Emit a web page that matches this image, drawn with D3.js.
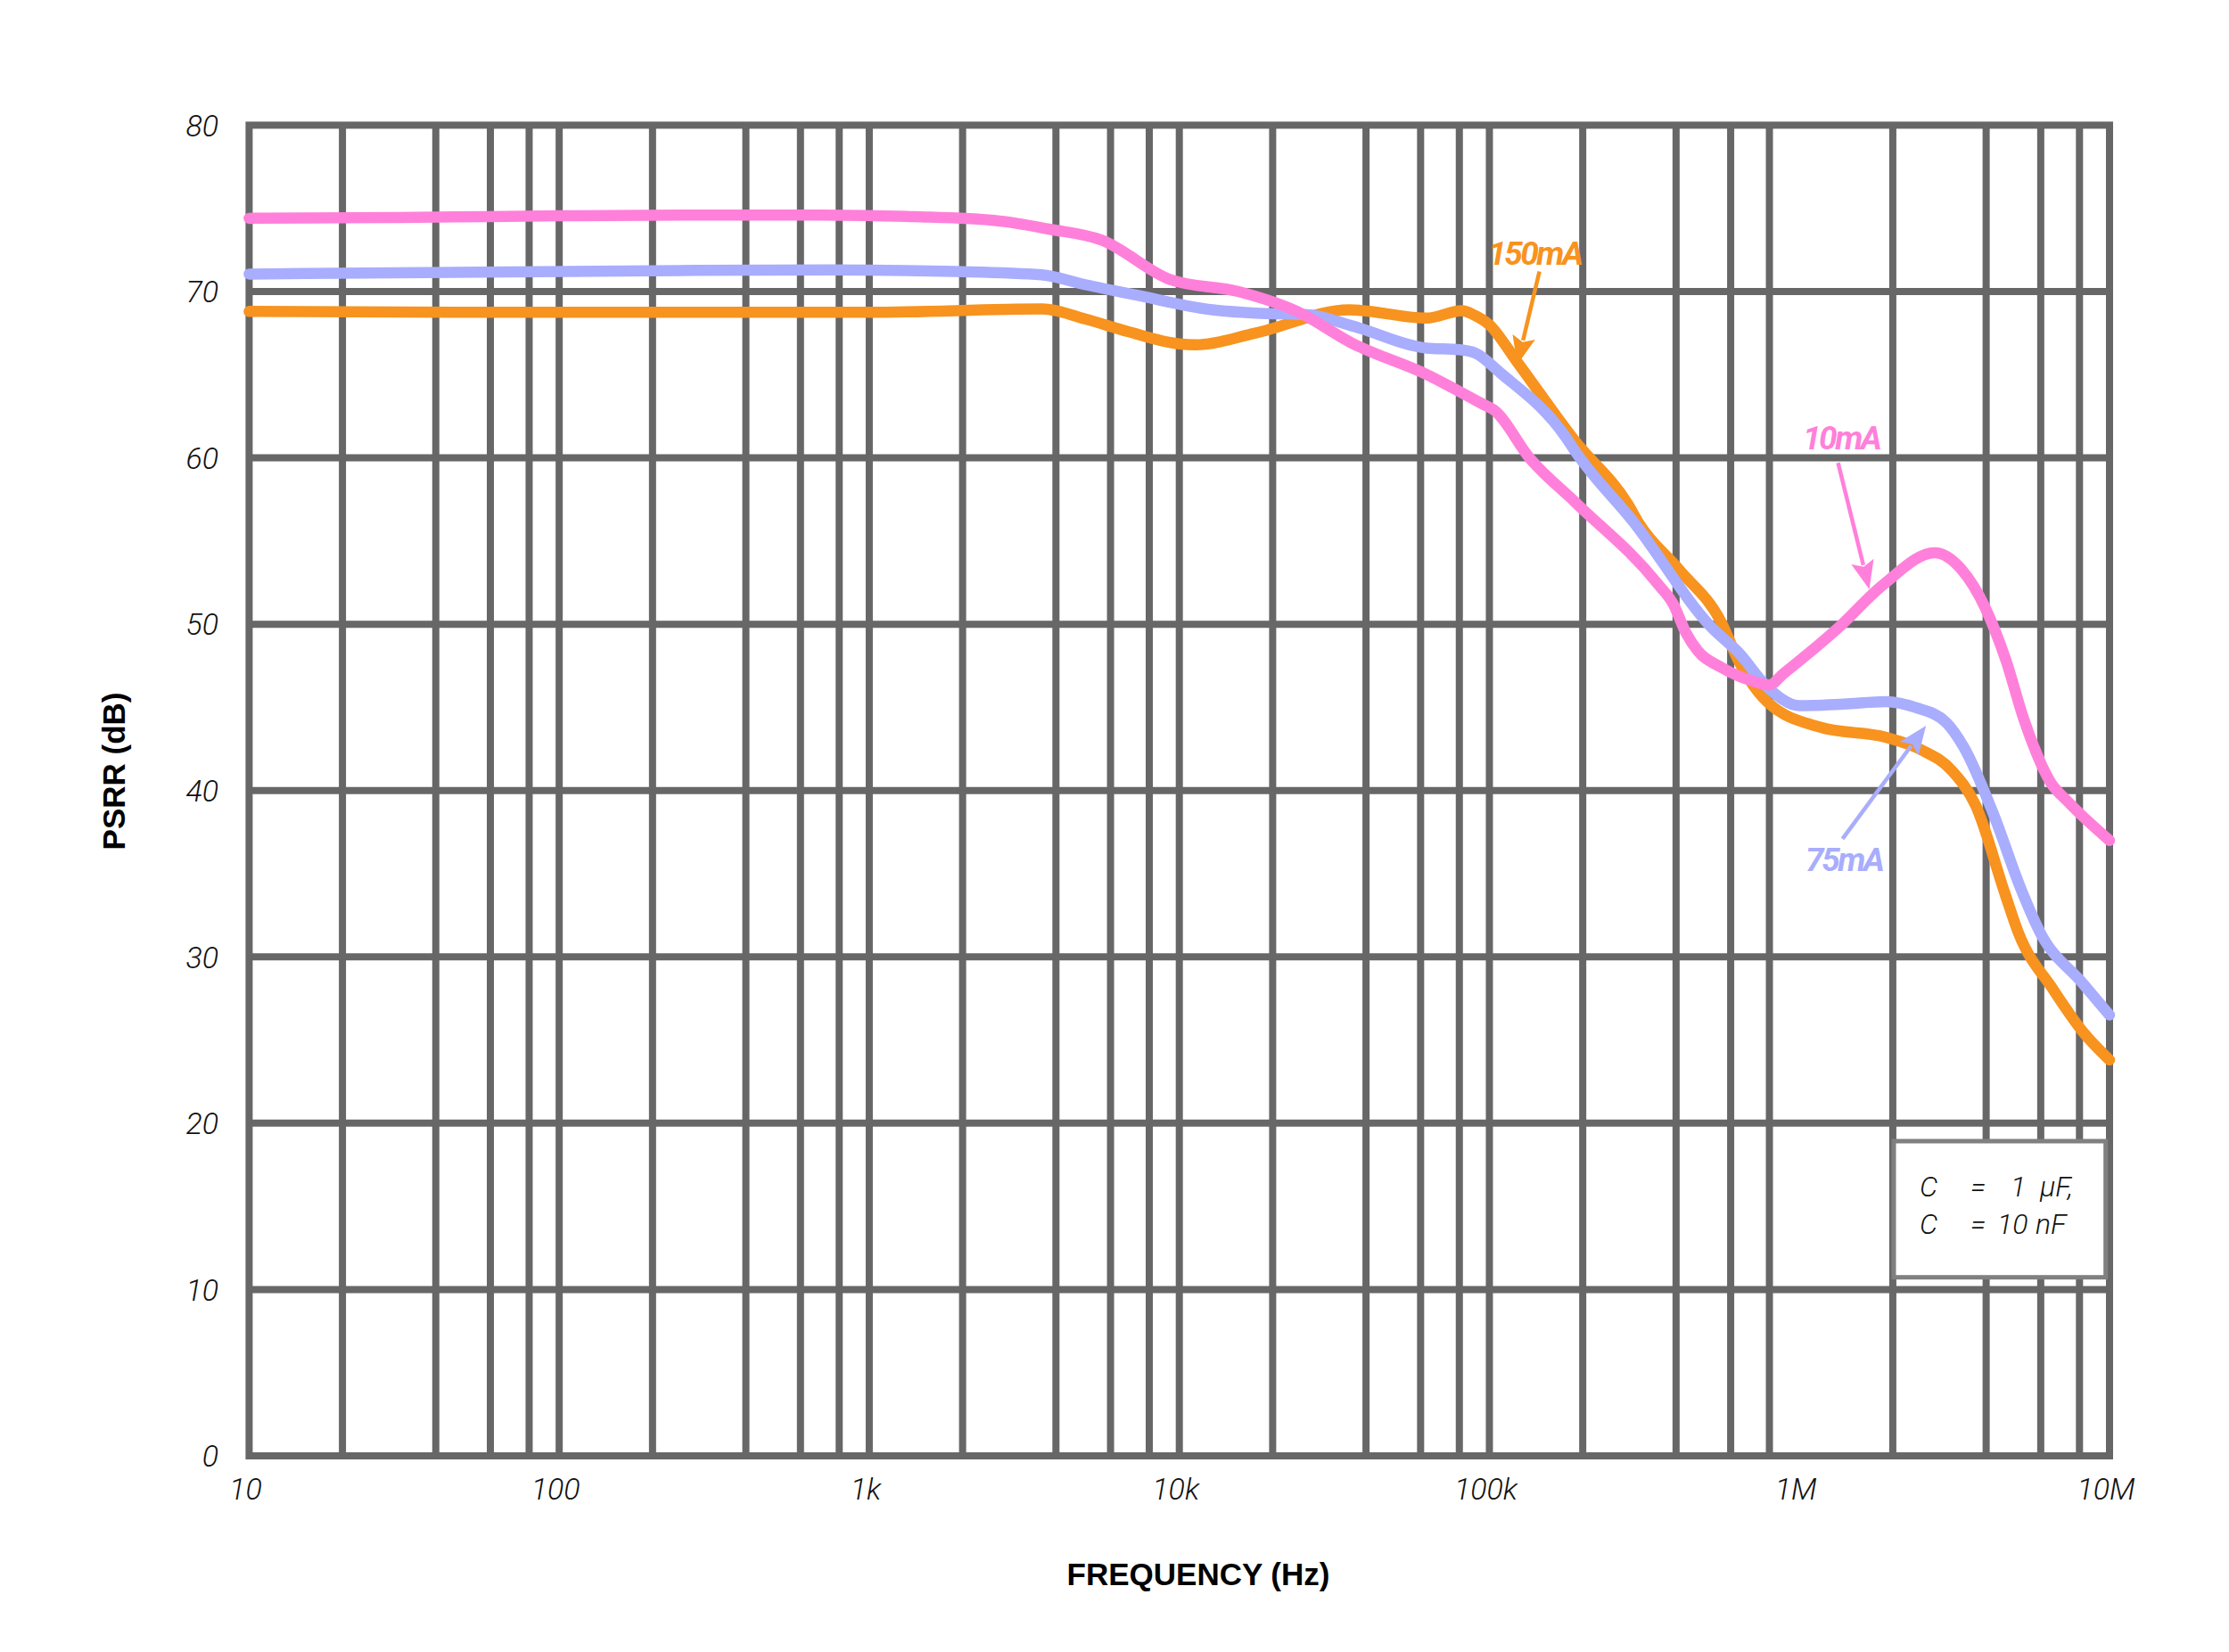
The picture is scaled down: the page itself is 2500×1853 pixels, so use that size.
<!DOCTYPE html>
<html><head><meta charset="utf-8">
<script src="https://cdn.jsdelivr.net/npm/d3@7"></script>
<style>body{margin:0;background:#fff}svg{display:block}</style>
</head><body>
<svg id="chart" width="2500" height="1853"></svg>
<script>
// ---- data ----
const yTicks = [0, 10, 20, 30, 40, 50, 60, 70, 80];
const xTickValues = [10, 100, 1e3, 1e4, 1e5, 1e6, 1e7];
const xTickLabels = ["10", "100", "1k", "10k", "100k", "1M", "10M"];
const gridDecades = [10, 100, 1e3, 1e4, 1e5, 1e6];
const gridMantissas = [2, 4, 6, 8, 10];
const missingGrid = [1e6];

const freq10mA = [10, 30, 100, 300, 700, 1400, 2600, 3800, 5600, 9400, 15500, 24000, 36000, 63000, 96000, 103000, 136000, 190000, 350000, 392000, 430000, 470000, 560000, 700000, 800000, 885000, 1320000, 1870000, 2730000, 3330000, 3970000, 4630000, 5290000, 6450000, 7370000, 10000000];
const psrr10mA = [74.4, 74.45, 74.55, 74.6, 74.6, 74.5, 74.25, 73.75, 73.1, 70.7, 70.0, 68.8, 66.9, 65.0, 63.2, 62.9, 59.9, 57.3, 52.4, 51.2, 49.5, 48.4, 47.4, 46.6, 46.35, 47.0, 49.7, 52.4, 54.3, 53.3, 51.0, 47.85, 44.3, 40.5, 39.3, 37.0];

const freq75mA = [10, 200, 740, 1900, 3600, 5000, 7200, 12800, 17600, 26000, 36600, 62700, 80000, 90000, 108600, 177000, 189000, 293000, 521000, 636000, 790000, 1000000, 1390000, 1900000, 2360000, 2970000, 3390000, 4200000, 5200000, 5960000, 8200000, 10000000];
const psrr75mA = [71.05, 71.25, 71.3, 71.2, 71.0, 70.4, 69.8, 68.9, 68.7, 68.6, 67.9, 66.6, 66.5, 66.3, 65.1, 61.2, 60.4, 56.1, 49.8, 48.3, 46.2, 45.1, 45.2, 45.35, 45.0, 44.1, 42.6, 38.7, 34.0, 31.5, 28.4, 26.5];

const freq150mA = [10, 100, 1000, 3620, 4970, 6800, 10000, 11300, 17600, 35400, 62700, 81700, 89000, 100000, 122000, 189000, 280000, 305000, 408000, 560000, 636000, 790000, 1170000, 1900000, 2470000, 3100000, 3700000, 4600000, 5070000, 6600000, 8200000, 10000000];
const psrr150mA = [68.8, 68.75, 68.75, 68.95, 68.35, 67.6, 66.85, 66.8, 67.5, 68.9, 68.4, 68.85, 68.6, 68.0, 65.85, 61.0, 57.2, 56.0, 53.3, 50.1, 47.8, 45.3, 43.8, 43.2, 42.45, 41.2, 39.1, 33.8, 31.5, 28.0, 25.5, 23.8];

const seriesNames = ["10mA", "75mA", "150mA"];
const seriesColors = ["#FF80DA", "#A8ADFD", "#F7931E"];
// annotation: [label, labelFreq, labelDb, arrowStartFreq, arrowStartDb, tipFreq, tipDb]
const annotations = [
  ["150mA", 140000, 72.3, 145000, 71.2, 123000, 65.6],
  ["10mA", 1365000, 61.2, 1332000, 59.7, 1680000, 52.1],
  ["75mA", 1393000, 35.9, 1377000, 37.1, 2560000, 43.9]
];
const noteLines = [["C", "=", "1", "\u03BCF,"], ["C", "=", "10", "nF"]];

// ---- layout ----
const svg = d3.select("#chart");
const L = 279.4, R = 2366, T = 140.4, B = 1633;
const x = d3.scaleLog().domain([10, 1e7]).range([L, R]);
const y = d3.scaleLinear().domain([0, 80]).range([B, T]);
const gridColor = "#676767";

const g = svg.append("g");
// vertical grid
const vGrid = [];
gridDecades.forEach(d => gridMantissas.forEach(m => {
  const f = d * m;
  if (f < 1e7 && !missingGrid.includes(f)) vGrid.push(f);
}));
g.selectAll("line.vg").data(vGrid).enter().append("line")
  .attr("x1", d => x(d)).attr("x2", d => x(d)).attr("y1", T).attr("y2", B)
  .attr("stroke", gridColor).attr("stroke-width", 8);
g.selectAll("line.hg").data(yTicks.filter(v => v > 0 && v < 80)).enter().append("line")
  .attr("x1", L).attr("x2", R).attr("y1", d => y(d)).attr("y2", d => y(d))
  .attr("stroke", gridColor).attr("stroke-width", 8);
g.append("rect").attr("x", L).attr("y", T).attr("width", R - L).attr("height", B - T)
  .attr("fill", "none").attr("stroke", gridColor).attr("stroke-width", 8);

// y tick labels
const tickFont = "Roboto, 'DejaVu Sans', sans-serif";
g.selectAll("text.yl").data(yTicks).enter().append("text")
  .attr("x", 245).attr("y", d => y(d)).attr("dy", "0.36em")
  .attr("text-anchor", "end").attr("font-family", tickFont).attr("font-style", "italic")
  .attr("font-weight", 300).attr("font-size", 34).attr("fill", "#111").text(d => d);
// x tick labels
g.selectAll("text.xl").data(xTickValues).enter().append("text")
  .attr("x", d => x(d) - 4).attr("y", 1682)
  .attr("text-anchor", "middle").attr("font-family", tickFont).attr("font-style", "italic")
  .attr("font-weight", 300).attr("font-size", 34).attr("fill", "#111")
  .text((d, i) => xTickLabels[i]);

// axis titles
svg.append("text").attr("x", 1344).attr("y", 1778).attr("text-anchor", "middle")
  .attr("font-family", "'Liberation Sans', Arial, sans-serif").attr("font-weight", "bold")
  .attr("font-size", 35).attr("fill", "#000").text("FREQUENCY (Hz)");
svg.append("text").attr("transform", "translate(140,865) rotate(-90)").attr("text-anchor", "middle")
  .attr("font-family", "'Liberation Sans', Arial, sans-serif").attr("font-weight", "bold")
  .attr("font-size", 35).attr("fill", "#000").text("PSRR (dB)");

// series
const allF = [freq10mA, freq75mA, freq150mA];
const allV = [psrr10mA, psrr75mA, psrr150mA];
const line = d3.line().x(d => x(d[0])).y(d => y(d[1])).curve(d3.curveMonotoneX);
[2, 1, 0].forEach(i => {
  const pts = allF[i].map((f, k) => [f, allV[i][k]]);
  g.append("path").datum(pts).attr("d", line).attr("fill", "none")
    .attr("stroke", seriesColors[i]).attr("stroke-width", 12.5)
    .attr("stroke-linecap", "round").attr("stroke-linejoin", "round");
});

// annotations
const annColor = {"10mA": seriesColors[0], "75mA": seriesColors[1], "150mA": seriesColors[2]};
annotations.forEach(a => {
  const c = annColor[a[0]];
  const x1 = x(a[3]), y1 = y(a[4]), x2 = x(a[5]), y2 = y(a[6]);
  const dx = x2 - x1, dy = y2 - y1, len = Math.hypot(dx, dy);
  const ux = dx / len, uy = dy / len, hl = 32, hw = 13;
  const bx = x2 - ux * hl, by = y2 - uy * hl;
  g.append("line").attr("x1", x1).attr("y1", y1).attr("x2", bx + ux * 4).attr("y2", by + uy * 4)
    .attr("stroke", c).attr("stroke-width", 4.5);
  g.append("polygon").attr("points", [[x2, y2], [bx - uy * hw, by + ux * hw], [bx + ux * 6, by + uy * 6], [bx + uy * hw, by - ux * hw]].map(p => p.join(",")).join(" "))
    .attr("fill", c);
  g.append("text").attr("x", x(a[1])).attr("y", y(a[2])).attr("dy", "0.36em")
    .attr("text-anchor", "middle").attr("font-family", tickFont).attr("font-style", "italic")
    .attr("font-weight", 700).attr("font-size", 37).attr("letter-spacing", -2.5)
    .attr("fill", c).text(a[0]);
});

// note box
const bxL = R - 242, bxT = 1280, bxW = 237.7, bxH = 152.7;
g.append("rect").attr("x", bxL).attr("y", bxT).attr("width", bxW).attr("height", bxH)
  .attr("fill", "#fff").attr("stroke", "#808080").attr("stroke-width", 5);
const colX = [29, 86, 131, 164];
const colX2 = [29, 86, 116, 159];
noteLines.forEach((ln, r) => {
  ln.forEach((t, k) => {
    g.append("text").attr("x", bxL + (r === 0 ? colX[k] : colX2[k])).attr("y", bxT + 62 + r * 41.5)
      .attr("font-family", tickFont).attr("font-style", "italic").attr("font-weight", 300)
      .attr("font-size", 32).attr("fill", "#111").text(t);
  });
});
</script>
</body></html>
